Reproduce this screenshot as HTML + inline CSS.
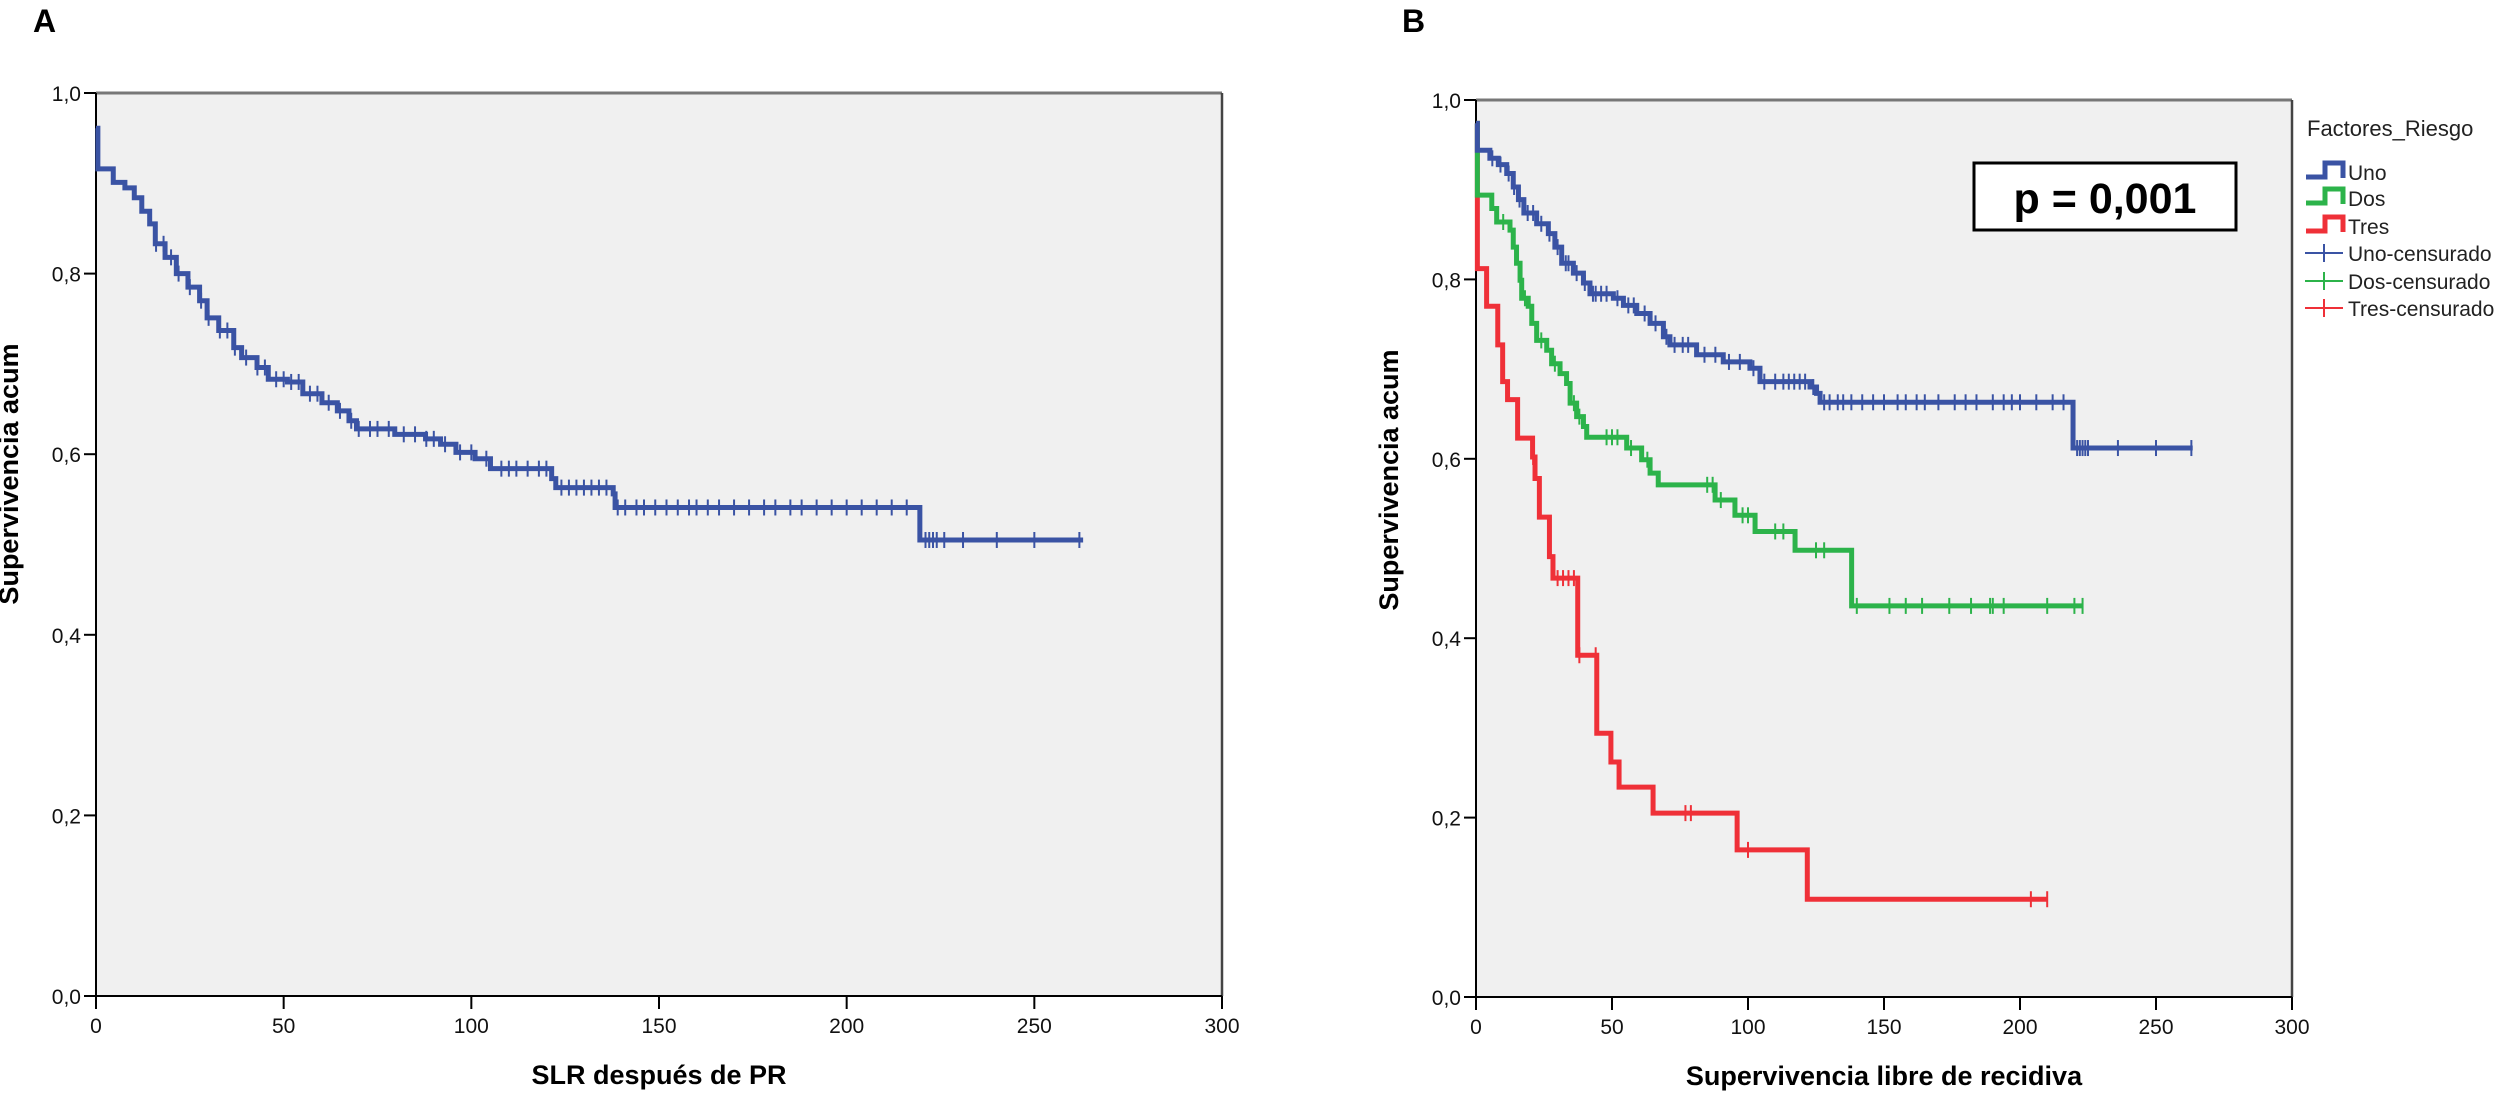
<!DOCTYPE html>
<html><head><meta charset="utf-8">
<style>
html,body{margin:0;padding:0;background:#fff;}
svg{display:block;font-family:"Liberation Sans",Arial,sans-serif;}
</style></head>
<body>
<svg id="chart" width="2508" height="1096" viewBox="0 0 2508 1096" xmlns="http://www.w3.org/2000/svg">
  <text x="33" y="32" font-size="32" font-weight="bold">A</text>
  <text x="1402" y="32" font-size="32" font-weight="bold">B</text>
  <g id="panelA"></g>
  <g id="panelB"></g>
</svg>
<script>
// ---------- Panel A data ----------
const aStart = 0.961;
const aEventTimes = [0.5, 4.6, 7.7, 10.2, 12.2, 14.3, 15.8, 18.4, 21.4, 24.5, 27.6, 29.6, 32.7, 36.7, 38.8, 42.9, 45.9, 51, 55.1, 60.2, 64.3, 67.4, 69.4, 79.6, 87.8, 91.8, 95.9, 101, 105.1, 121.4, 122.5, 137.8, 138.3, 219.5];
const aEventSurv = [0.916, 0.901, 0.895, 0.884, 0.869, 0.855, 0.833, 0.818, 0.800, 0.785, 0.770, 0.751, 0.737, 0.718, 0.707, 0.696, 0.683, 0.680, 0.667, 0.657, 0.648, 0.637, 0.628, 0.622, 0.617, 0.611, 0.602, 0.595, 0.584, 0.573, 0.563, 0.556, 0.541, 0.505];
const aEnd = 263;
const aCensor = [16,18,20,22,25,28,30,33,35,37,40,43,45,48,50,52,54,57,59,62,65,68,70,73,75,78,82,85,88,90,93,97,100,104,108,110,112,115,118,120,124,126,128,130,132,134,136,139,141,144,146,149,152,155,158,160,163,166,170,174,178,181,185,188,192,196,200,204,208,212,216,221,222,223,224,226,231,240,250,262];

// ---------- Panel B data ----------
const groups = ["Uno","Dos","Tres"];
const unoStart = 0.974;
const unoEventTimes = [0.5, 5.1, 8.2, 11.3, 13.7, 15.6, 17.6, 22.3, 26.6, 29, 31.5, 35.8, 39.5, 41.9, 50.5, 54.2, 59.1, 64, 68.9, 71.3, 81.1, 90.9, 100.7, 104.4, 122.8, 125.2, 126.5, 219.5];
const unoEventSurv = [0.944, 0.935, 0.928, 0.918, 0.903, 0.889, 0.874, 0.862, 0.851, 0.836, 0.818, 0.807, 0.796, 0.784, 0.779, 0.771, 0.762, 0.751, 0.736, 0.727, 0.716, 0.708, 0.701, 0.686, 0.680, 0.673, 0.663, 0.612];
const unoEnd = 263.5;
const unoCensor = [6,9,12,14,16,19,21,24,27,30,33,34,37,40,43,44,46,48,52,56,58,62,66,70,73,76,78,84,88,93,97,102,106,110,113,115,117,119,121,124,128,130,133,135,138,142,146,150,155,158,162,165,170,176,180,184,190,194,197,200,206,212,216,221,222,223,224,225,236,250,263];
const dosStart = 0.974;
const dosEventTimes = [0.5, 5.8, 7.6, 12.5, 13.7, 14.9, 16.2, 16.8, 19.2, 20.5, 22.3, 26, 27.8, 30.9, 33.3, 34.6, 37, 39.5, 40.7, 55.4, 60.9, 64, 67, 87.9, 95.2, 102.6, 117.3, 138.1];
const dosEventSurv = [0.894, 0.879, 0.864, 0.855, 0.836, 0.818, 0.799, 0.779, 0.770, 0.751, 0.732, 0.721, 0.706, 0.695, 0.684, 0.662, 0.647, 0.636, 0.624, 0.612, 0.599, 0.584, 0.571, 0.554, 0.537, 0.519, 0.498, 0.436];
const dosEnd = 223;
const dosCensor = [10,18,24,29,36,38,48,50,52,57,63,85,87,90,98,100,110,113,125,128,140,152,158,164,174,182,189,190,194,210,220,223];
const tresStart = 0.974;
const tresEventTimes = [0.5, 3.9, 8, 9.8, 11.6, 15.3, 20.8, 21.7, 23.3, 27, 28.3, 37.4, 44.4, 49.6, 52.6, 65.1, 96, 121.8];
const tresEventSurv = [0.812, 0.770, 0.727, 0.686, 0.666, 0.623, 0.602, 0.578, 0.535, 0.491, 0.467, 0.381, 0.294, 0.262, 0.234, 0.205, 0.164, 0.109];
const tresEnd = 210;
const tresCensor = [21,30,32,34,36,38,44,77,79,100,204,210];

const xTicks = [0,50,100,150,200,250,300];
const xTickLabels = ["0","50","100","150","200","250","300"];
const yTicks = [0,0.2,0.4,0.6,0.8,1.0];
const yTickLabels = ["0,0","0,2","0,4","0,6","0,8","1,0"];

const NS = "http://www.w3.org/2000/svg";
function mk(parent, tag, attrs, text){
  const e = document.createElementNS(NS, tag);
  for (const k in attrs) e.setAttribute(k, attrs[k]);
  if (text !== undefined) e.textContent = text;
  parent.appendChild(e);
  return e;
}
function survAt(t, start, times, surv){
  let s = start;
  for (let i=0;i<times.length;i++){ if (times[i] <= t) s = surv[i]; }
  return s;
}

function drawPanel(g, L, R, T, B, xTitle, yTitleX, yTitleY){
  const xs = v => L + (v/300)*(R-L);
  const ys = v => B - v*(B-T);
  const bg = mk(g,'rect',{x:L,y:T,width:R-L,height:B-T,fill:'#f0f0f0'});
  
  
  const top = mk(g,'line',{x1:L,y1:T,x2:R,y2:T,stroke:'#777',"stroke-width":3});
  
  
  const right = mk(g,'line',{x1:R,y1:T,x2:R,y2:B,stroke:'#444',"stroke-width":2.5});
  
  
  const yax = mk(g,'line',{x1:L,y1:T,x2:L,y2:B+1,stroke:'#000',"stroke-width":2});
  
  
  const xax = mk(g,'line',{x1:L-1,y1:B,x2:R,y2:B,stroke:'#000',"stroke-width":2});
  
  
  xTicks.forEach((v,i)=>{
    const tk = mk(g,'line',{x1:xs(v),y1:B,x2:xs(v),y2:B+13,stroke:'#000',"stroke-width":2});
    
    
    const lb = mk(g,'text',{x:xs(v),y:B+37,"font-size":21,"text-anchor":"middle",fill:'#111'},xTickLabels[i]);
    
    
  });
  yTicks.forEach((v,i)=>{
    const tk = mk(g,'line',{x1:L-12,y1:ys(v),x2:L,y2:ys(v),stroke:'#000',"stroke-width":2});
    
    
    const lb = mk(g,'text',{x:L-15,y:ys(v)+8,"font-size":21,"text-anchor":"end",fill:'#111'},yTickLabels[i]);
    
    
  });
  const xt = mk(g,'text',{x:(L+R)/2,y:B+88,"font-size":27,"font-weight":"bold","text-anchor":"middle"},xTitle);
  
  
  const yt = mk(g,'text',{x:yTitleX,y:yTitleY,"font-size":27,"font-weight":"bold","text-anchor":"middle",transform:`rotate(-90 ${yTitleX} ${yTitleY})`},"Supervivencia acum");
  
  
  return {xs, ys};
}

function drawCurve(g, sc, start, times, surv, end, censor, color, name){
  let d = `M${sc.xs(0)},${sc.ys(start)}`;
  for (let i=0;i<times.length;i++){
    d += ` H${sc.xs(times[i])} V${sc.ys(surv[i])}`;
  }
  d += ` H${sc.xs(end)}`;
  const p = mk(g,'path',{d:d,fill:'none',stroke:color,"stroke-width":5,"stroke-linejoin":"miter"});
  
  
  censor.forEach(t=>{
    const y = sc.ys(survAt(t,start,times,surv));
    const c = mk(g,'line',{x1:sc.xs(t),y1:y-8,x2:sc.xs(t),y2:y+8,stroke:color,"stroke-width":2});
    
    
  });
}

// Panel A
const gA = document.getElementById('panelA');
const scA = drawPanel(gA, 96, 1222, 93, 996, "SLR después de PR", 18, 474);
drawCurve(gA, scA, aStart, aEventTimes, aEventSurv, aEnd, aCensor, '#3a53a4', 'overall');

// Panel B
const gB = document.getElementById('panelB');
const scB = drawPanel(gB, 1476, 2292, 100, 997, "Supervivencia libre de recidiva", 1398, 480);
drawCurve(gB, scB, tresStart, tresEventTimes, tresEventSurv, tresEnd, tresCensor, '#ef3038', 'tres');
drawCurve(gB, scB, dosStart, dosEventTimes, dosEventSurv, dosEnd, dosCensor, '#2cb34a', 'dos');
drawCurve(gB, scB, unoStart, unoEventTimes, unoEventSurv, unoEnd, unoCensor, '#3a53a4', 'uno');

// p-value box
const pb = mk(gB,'rect',{x:1974,y:163,width:262,height:67,fill:'#fff',stroke:'#000',"stroke-width":3});


const pt = mk(gB,'text',{x:2105,y:213,"font-size":43,"font-weight":"bold","text-anchor":"middle"},"p = 0,001");



// Legend
const leg = mk(gB,'g',{});


const lt = mk(leg,'text',{x:2307,y:136,"font-size":22,fill:'#222'},"Factores_Riesgo");


const legColors = ['#3a53a4','#2cb34a','#ef3038'];
const legY = [172,198,226];
groups.forEach((gname,i)=>{
  const y = legY[i];
  const ic = mk(leg,'path',{d:`M2306,${y+5} H2325 V${y-9} H2343 V${y+6}`,fill:'none',stroke:legColors[i],"stroke-width":5});
  
  
  const tx = mk(leg,'text',{x:2348,y:y+8,"font-size":21,fill:'#222'},gname);
  
  
});
const legCY = [253,281,308];
groups.forEach((gname,i)=>{
  const y = legCY[i];
  const h = mk(leg,'line',{x1:2305,y1:y,x2:2343,y2:y,stroke:legColors[i],"stroke-width":2});
  
  
  const v = mk(leg,'line',{x1:2324,y1:y-9,x2:2324,y2:y+9,stroke:legColors[i],"stroke-width":2});
  
  
  const tx = mk(leg,'text',{x:2348,y:y+8,"font-size":21,fill:'#222'},gname + "-censurado");
  
  
});
</script>
</body></html>
